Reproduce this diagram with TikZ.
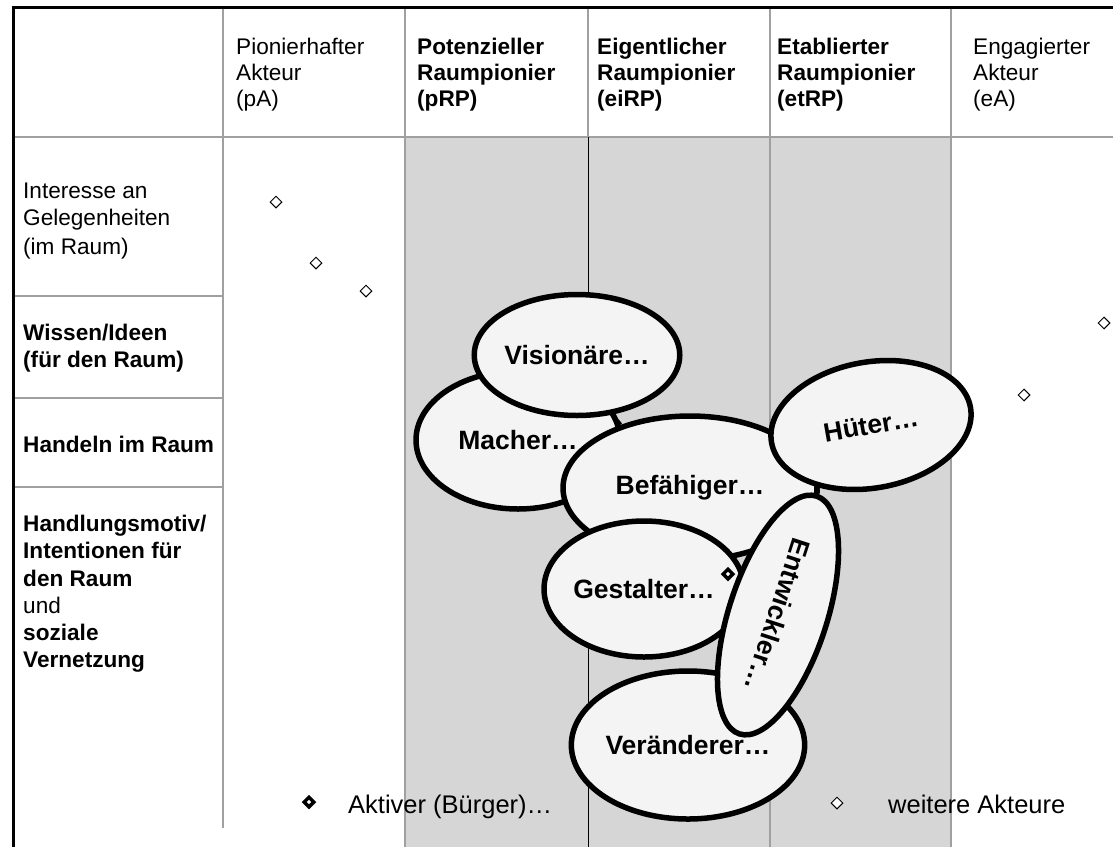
\documentclass[tikz,border=0pt]{standalone}
\usepackage{fontspec}
\setmainfont{Liberation Sans}
\usetikzlibrary{shapes.geometric}
\definecolor{colgrey}{HTML}{D6D6D6}
\definecolor{ellfill}{HTML}{F4F4F4}
\definecolor{linegrey}{HTML}{A0A0A0}
\pgfdeclarelayer{bg}
\pgfdeclarelayer{connlayer}
\pgfsetlayers{bg,connlayer,main}
\begin{document}
\begin{tikzpicture}[x=1pt,y=-1pt,
  gline/.style={draw=linegrey,line width=1.5pt},
  thick border/.style={draw=black,line width=3pt},
  txt/.style={anchor=base west,inner sep=0pt,font=\fontsize{22.6}{27}\selectfont},
  btxt/.style={anchor=base west,inner sep=0pt,font=\fontsize{22.6}{27}\selectfont\bfseries},
  legendtxt/.style={anchor=base west,inner sep=0pt,font=\fontsize{25.5}{30}\selectfont},
  ell/.style={ellipse,draw=black,line width=5.5pt,fill=ellfill,inner sep=0pt,font=\fontsize{26.5}{30}\selectfont\bfseries},
  smalldia/.style={diamond,draw=black,line width=1pt,fill=white,inner sep=0pt,minimum width=12pt,minimum height=12pt},
  bolddia/.style={diamond,draw=black,line width=3.5pt,fill=white,inner sep=0pt,minimum width=11pt,minimum height=11pt},
  connector/.style={draw=black,line width=5pt}
]
\useasboundingbox (0,0) rectangle (1113,847);
\begin{pgfonlayer}{bg}
\fill[white] (0,0) rectangle (1113,847);
\fill[colgrey] (405,137) rectangle (951,847);
% header grid
\draw[gline] (13,137) -- (1113,137);
\foreach \xx in {223,405,588,770,951} {\draw[gline] (\xx,7) -- (\xx,137);}
% body grid
\draw[gline] (223,137) -- (223,828);
\draw[gline] (405,137) -- (405,847);
\draw[draw=black,line width=0.8pt] (588,137) -- (588,847);
\draw[gline] (770,137) -- (770,847);
\draw[gline] (951,137) -- (951,847);
\foreach \yy in {296,398,487} {\draw[gline] (13,\yy) -- (223,\yy);}
\draw[thick border] (1113,7) -- (13,7) -- (13,847);
\end{pgfonlayer}

% header texts
\node[txt] (h1a) at (236,54) {Pionierhafter};
\node[txt] (h1b) at (236,80) {Akteur};
\node[txt] (h1c) at (236,106) {(pA)};
\node[btxt] (h2a) at (417,54) {Potenzieller};
\node[btxt] (h2b) at (417,80) {Raumpionier};
\node[btxt] (h2c) at (417,106) {(pRP)};
\node[btxt] (h3a) at (597,54) {Eigentlicher};
\node[btxt] (h3b) at (597,80) {Raumpionier};
\node[btxt] (h3c) at (597,106) {(eiRP)};
\node[btxt] (h4a) at (777,54) {Etablierter};
\node[btxt] (h4b) at (777,80) {Raumpionier};
\node[btxt] (h4c) at (777,106) {(etRP)};
\node[txt] (h5a) at (973,54) {Engagierter};
\node[txt] (h5b) at (973,80) {Akteur};
\node[txt] (h5c) at (973,106) {(eA)};

% row texts
\node[txt] (r1a) at (23,198) {Interesse an};
\node[txt] (r1b) at (23,225) {Gelegenheiten};
\node[txt] (r1c) at (23,254) {(im Raum)};
\node[btxt] (r2a) at (23,340) {Wissen/Ideen};
\node[btxt] (r2b) at (23,367) {(für den Raum)};
\node[btxt] (r3a) at (23,452) {Handeln im Raum};
\node[btxt] (r4a) at (23,531) {Handlungsmotiv/};
\node[btxt] (r4b) at (23,558) {Intentionen für};
\node[btxt] (r4c) at (23,586) {den Raum};
\node[txt]  (r4d) at (23,613) {und};
\node[btxt] (r4e) at (23,640) {soziale};
\node[btxt] (r4f) at (23,667) {Vernetzung};

% small diamonds
\node[smalldia] (d1) at (276,202) {};
\node[smalldia] (d2) at (316,263) {};
\node[smalldia] (d3) at (366,291) {};
\node[smalldia] (d4) at (1104,323) {};
\node[smalldia] (d5) at (1024,395) {};

% ellipses
\node[ell,minimum width=204pt,minimum height=138pt] (mac) at (518,440) {Macher…};
\node[ell,minimum width=172pt,minimum height=121pt] (vis) at (577,355) {Visionäre…};
\node[ell,minimum width=254pt,minimum height=144pt] (bef) at (690,488) {Befähiger…};
\node[ell,minimum width=202pt,minimum height=126pt,rotate=10] (hut) at (871,425) {Hüter…};
\node[ell,minimum width=160pt,minimum height=136pt] (ges) at (644,589) {Gestalter…};
\node[ell,minimum width=180pt,minimum height=148pt] (ver) at (688,745) {Veränderer…};
\node[ell,minimum width=250pt,minimum height=98pt,rotate=-108] (ent) at (778,615) {Entwickler…};

\begin{pgfonlayer}{connlayer}
\draw[connector] (vis.-60) -- (bef.138);
\draw[connector] (hut.219) -- (ent.180);
\end{pgfonlayer}

\node[bolddia] (bd1) at (728,574) {};

% legend
\node[bolddia] (lg1) at (309,802) {};
\node[legendtxt] (lt1) at (348,813) {Aktiver (Bürger)…};
\node[smalldia] (lg2) at (837,803) {};
\node[legendtxt] (lt2) at (888,813) {weitere Akteure};
\end{tikzpicture}
\end{document}
